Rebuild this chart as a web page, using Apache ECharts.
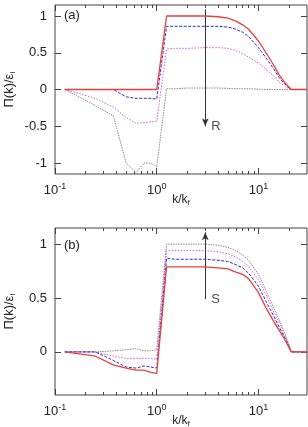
<!DOCTYPE html>
<html><head><meta charset="utf-8">
<script src="https://cdn.jsdelivr.net/npm/echarts@6/dist/echarts.min.js"></script>
<style>html,body{margin:0;padding:0;background:#fff}#c{width:308px;height:427px}</style>
</head><body><div id="c"></div>
<script>
// wavenumber k/k_f
const k = [0.125, 0.25, 0.375, 0.5, 0.625, 0.75, 0.875, 1, 1.25, 1.5, 2, 3, 4, 5, 6, 7, 8, 10, 12, 14, 16, 18, 20, 21, 25, 30];

// panel (a)
const aRed  = [0, 0, 0, 0, 0, 0, 0, 0, 1.0, 1.0, 1.0, 1.0, 0.99, 0.97, 0.93, 0.88, 0.82, 0.66, 0.49, 0.34, 0.2, 0.1, 0.03, 0, 0, 0];
const aBlue = [0, 0, 0, -0.1, -0.12, -0.12, -0.12, -0.13, 0.86, 0.86, 0.86, 0.86, 0.86, 0.85, 0.82, 0.78, 0.72, 0.57, 0.42, 0.29, 0.16, 0.08, 0.02, 0, 0, 0];
const aMag  = [0, -0.12, -0.24, -0.38, -0.46, -0.45, -0.44, -0.43, 0.55, 0.56, 0.56, 0.57, 0.57, 0.56, 0.53, 0.49, 0.44, 0.36, 0.27, 0.19, 0.1, 0.05, 0.01, 0, 0, 0];
const aGray = [0, -0.22, -0.36, -1.0, -1.13, -1.0, -1.0, -1.05, 0.01, 0.01, 0.02, 0.02, 0.02, 0.015, 0.01, 0.01, 0.01, 0.005, 0, 0, 0, 0, 0, 0, 0, 0];

// panel (b)
const bRed  = [0, -0.04, -0.12, -0.15, -0.17, -0.17, -0.19, -0.2, 0.79, 0.79, 0.79, 0.79, 0.78, 0.77, 0.74, 0.72, 0.68, 0.55, 0.4, 0.29, 0.2, 0.12, 0.04, 0, 0, 0];
const bBlue = [0, 0, -0.08, -0.14, -0.15, -0.13, -0.14, -0.15, 0.87, 0.86, 0.86, 0.86, 0.85, 0.84, 0.81, 0.78, 0.73, 0.61, 0.46, 0.34, 0.23, 0.14, 0.05, 0, 0, 0];
const bMag  = [0, 0, -0.04, -0.06, -0.06, -0.06, -0.06, -0.07, 0.94, 0.94, 0.94, 0.94, 0.93, 0.91, 0.88, 0.84, 0.79, 0.67, 0.52, 0.38, 0.27, 0.16, 0.06, 0, 0, 0];
const bGray = [0, 0, 0.01, 0.02, 0.03, 0.01, 0.01, 0.02, 1.0, 1.0, 1.0, 1.0, 0.99, 0.97, 0.94, 0.9, 0.85, 0.72, 0.56, 0.42, 0.3, 0.18, 0.07, 0, 0, 0];

// ticks
const xMajorTicks = [0.1, 1, 10];
const xMinorTicks = [0.2, 0.3, 0.4, 0.5, 0.6, 0.7, 0.8, 0.9, 2, 3, 4, 5, 6, 7, 8, 9, 20];
const aYTicks = [-1, -0.5, 0, 0.5, 1];
const bYTicks = [0, 0.5, 1];

// arrows and labels
const arrowAX = [3, 3], arrowAY = [1.09, -0.5], labelA = 'R';
const arrowBX = [3, 3], arrowBY = [0.49, 1.11], labelB = 'S';

const FONT = "'Liberation Sans', Arial, Helvetica, sans-serif";
const FRAME = '#444';
const pair = arr => k.map((x, i) => [x, arr[i]]);

const chart = echarts.init(document.getElementById('c'), null, {renderer: 'canvas'});

function xAxesFor(g) {
  const base = {type: 'log', logBase: 10, min: 0.1, max: 30, gridIndex: g,
    axisLine: {show: false, onZero: false}, splitLine: {show: false}};
  return [
    Object.assign({}, base, {position: 'bottom',
      axisTick: {show: true, inside: true, length: 6, lineStyle: {color: FRAME}, customValues: xMajorTicks},
      axisLabel: {show: true, margin: 8, customValues: xMajorTicks, fontFamily: FONT, fontSize: 13, color: '#222',
        formatter: v => '{b|10}{s|' + Math.round(Math.log10(v)) + '}',
        rich: {b: {fontSize: 13, fontFamily: FONT, color: '#222'}, s: {fontSize: 9, fontFamily: FONT, color: '#222', verticalAlign: 'bottom', padding: [0, 0, 7, 0]}}},
      name: 'k/k{s|f}', nameLocation: 'middle', nameGap: 19, nameMoveOverlap: false,
      nameTextStyle: {fontFamily: FONT, fontSize: 12, color: '#222',
        rich: {s: {fontSize: 8, fontFamily: FONT, color: '#222', verticalAlign: 'top', padding: [6, 0, 0, 0]}}}}),
    Object.assign({}, base, {position: 'bottom',
      axisTick: {show: true, inside: true, length: 3, lineStyle: {color: FRAME}, customValues: xMinorTicks},
      axisLabel: {show: false}}),
    Object.assign({}, base, {position: 'top',
      axisTick: {show: true, inside: true, length: 6, lineStyle: {color: FRAME}, customValues: xMajorTicks},
      axisLabel: {show: false}}),
    Object.assign({}, base, {position: 'top',
      axisTick: {show: true, inside: true, length: 3, lineStyle: {color: FRAME}, customValues: xMinorTicks},
      axisLabel: {show: false}})
  ];
}
function yAxesFor(g, min, max, ticks) {
  const base = {type: 'value', min: min, max: max, gridIndex: g,
    axisLine: {show: false, onZero: false}, splitLine: {show: false}};
  return [
    Object.assign({}, base, {position: 'left',
      axisTick: {show: true, inside: true, length: 6, lineStyle: {color: FRAME}, customValues: ticks},
      axisLabel: {show: true, margin: 8, customValues: ticks, fontFamily: FONT, fontSize: 13, color: '#222'},
      name: 'Π(k)/ε{s|I}', nameLocation: 'middle', nameGap: 38, nameMoveOverlap: false,
      nameTextStyle: {fontFamily: FONT, fontSize: 13, color: '#222',
        rich: {s: {fontSize: 8, fontFamily: FONT, color: '#222', verticalAlign: 'top', padding: [7, 0, 0, 0]}}}}),
    Object.assign({}, base, {position: 'right',
      axisTick: {show: true, inside: true, length: 6, lineStyle: {color: FRAME}, customValues: ticks},
      axisLabel: {show: false}})
  ];
}

function lineSeries(data, xi, yi, color, type, width, z) {
  return {type: 'line', data: pair(data), xAxisIndex: xi, yAxisIndex: yi, showSymbol: false, symbol: 'none',
    smooth: false, silent: true, z: z, lineStyle: {color: color, width: width, type: type}};
}
function arrowSeries(xs, ys, label, labelY, xi, yi) {
  return [{
    type: 'line', data: [], xAxisIndex: xi, yAxisIndex: yi, silent: true,
    markLine: {silent: true, symbol: ['none', 'arrow'], symbolSize: [5, 8], animation: false,
      lineStyle: {color: '#333', width: 1, type: 'solid'}, label: {show: false},
      data: [[{coord: [xs[0], ys[0]]}, {coord: [xs[1], ys[1]]}]]}
  }, {
    type: 'scatter', data: [[xs[1], labelY]], xAxisIndex: xi, yAxisIndex: yi, symbolSize: 0.001, silent: true,
    label: {show: true, position: 'right', distance: 6, formatter: label, fontFamily: FONT, fontSize: 13, color: '#222'}
  }];
}

const gridBase = {left: 55, right: 1, show: true, borderColor: FRAME, borderWidth: 1,
  backgroundColor: 'transparent', containLabel: false, outerBoundsMode: 'none'};

const option = {
  animation: false,
  backgroundColor: '#fff',
  grid: [
    Object.assign({}, gridBase, {top: 5, height: 169}),
    Object.assign({}, gridBase, {top: 228, height: 167})
  ],
  xAxis: xAxesFor(0).concat(xAxesFor(1)),
  yAxis: yAxesFor(0, -1.15, 1.15, aYTicks).concat(yAxesFor(1, -0.4, 1.15, bYTicks)),
  graphic: [
    {type: 'text', left: 64, top: 9, style: {text: '(a)', font: "13px 'Liberation Sans', Arial", fill: '#222'}},
    {type: 'text', left: 64, top: 239, style: {text: '(b)', font: "13px 'Liberation Sans', Arial", fill: '#222'}}
  ],
  series: [
    lineSeries(aGray, 0, 0, '#8a8a8a', [1.5, 1], 1, 2),
    lineSeries(aMag, 0, 0, '#e055e0', [1.5, 1.5], 1, 3),
    lineSeries(aBlue, 0, 0, '#2a2ad0', [3, 1.5], 1, 4),
    lineSeries(aRed, 0, 0, '#e8403a', 'solid', 1.3, 5),
    lineSeries(bGray, 4, 2, '#8a8a8a', [1.5, 1], 1, 2),
    lineSeries(bMag, 4, 2, '#e055e0', [1.5, 1.5], 1, 3),
    lineSeries(bBlue, 4, 2, '#2a2ad0', [3, 1.5], 1, 4),
    lineSeries(bRed, 4, 2, '#e8403a', 'solid', 1.3, 5)
  ].concat(arrowSeries(arrowAX, arrowAY, labelA, arrowAY[1], 0, 0))
   .concat(arrowSeries(arrowBX, arrowBY, labelB, arrowBY[0], 4, 2))
};
chart.setOption(option);
</script>
</body></html>
